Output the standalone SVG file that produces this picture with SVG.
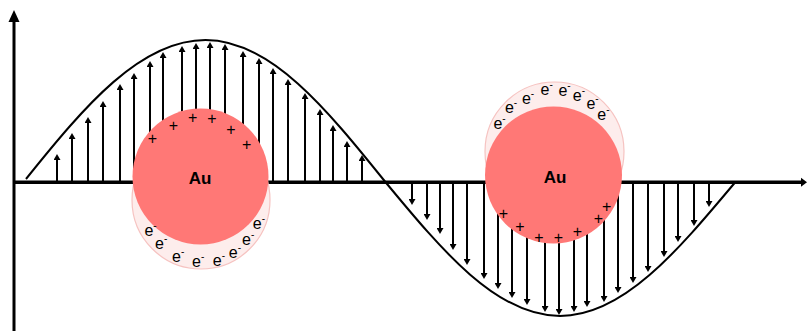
<svg xmlns="http://www.w3.org/2000/svg" width="807" height="331" viewBox="0 0 807 331">
  <style>
    .axis { stroke: #000; fill: none; }
    .wave { stroke: #000; stroke-width: 2; fill: none; }
    .field line { stroke: #000; stroke-width: 2; marker-end: url(#head); }
    .cloud { fill: #fdedec; stroke: #f6c3c1; stroke-width: 1.2; }
    .core { fill: #ff7876; }
    .label { font-family: "Liberation Sans", Arial, sans-serif; font-weight: bold; font-size: 17px; fill: #000; text-anchor: middle; }
    .plus { font-family: "Liberation Sans", Arial, sans-serif; font-size: 16px; fill: #000; text-anchor: middle; }
    .el { font-family: "Liberation Sans", Arial, sans-serif; font-size: 16px; fill: #000; text-anchor: middle; }
    .el tspan { font-size: 10px; }
  </style>
  <defs>
    <marker id="head" markerUnits="userSpaceOnUse" markerWidth="6" markerHeight="7" refX="0" refY="3.5" orient="auto">
      <path d="M0,0 L6,3.5 L0,7 z" fill="#000"/>
    </marker>
  </defs>

  <rect width="807" height="331" fill="#fff"/>

  <!-- coordinate axes -->
  <g id="axes">
    <line class="axis" x1="14" y1="331" x2="14" y2="21" stroke-width="3"/>
    <path d="M14,10 L19.5,22 L8.5,22 z" fill="#000"/>
    <line class="axis" x1="13" y1="182.3" x2="802" y2="182.3" stroke-width="3.5"/>
    <path d="M807,182.3 L801,177.8 L801,186.8 z" fill="#000"/>
  </g>

  <!-- electric field wave -->
  <path id="wave" class="wave" d="M26,179 C84.5,106 140.5,40 205.5,40 C270.5,40 326.5,108.8 385,181.5 C442.1,250.6 496.7,316 560,316 C623.3,316 677.9,250.6 735,182.5"/>

  <!-- field vectors -->
  <g id="connectors" class="field">
    <line x1="57" y1="182" x2="57" y2="160"/>
    <line x1="72" y1="182" x2="72" y2="139"/>
    <line x1="88" y1="182" x2="88" y2="123"/>
    <line x1="103" y1="182" x2="103" y2="107"/>
    <line x1="120" y1="182" x2="120" y2="90"/>
    <line x1="134" y1="182" x2="134" y2="79"/>
    <line x1="150" y1="182" x2="150" y2="67"/>
    <line x1="163" y1="182" x2="163" y2="58"/>
    <line x1="182" y1="182" x2="182" y2="52"/>
    <line x1="196" y1="182" x2="196" y2="49"/>
    <line x1="210" y1="182" x2="210" y2="48"/>
    <line x1="225" y1="182" x2="225" y2="50"/>
    <line x1="243" y1="182" x2="243" y2="57"/>
    <line x1="259" y1="182" x2="259" y2="64"/>
    <line x1="273" y1="182" x2="273" y2="74"/>
    <line x1="288" y1="182" x2="288" y2="85"/>
    <line x1="305" y1="182" x2="305" y2="99"/>
    <line x1="320" y1="182" x2="320" y2="115"/>
    <line x1="333" y1="182" x2="333" y2="131"/>
    <line x1="347" y1="182" x2="347" y2="147"/>
    <line x1="362" y1="182" x2="362" y2="161"/>

    <line x1="412" y1="183" x2="412" y2="199"/>
    <line x1="427" y1="183" x2="427" y2="214"/>
    <line x1="440" y1="183" x2="440" y2="228"/>
    <line x1="453" y1="183" x2="453" y2="244"/>
    <line x1="467" y1="183" x2="467" y2="259"/>
    <line x1="484" y1="183" x2="484" y2="273"/>
    <line x1="498" y1="183" x2="498" y2="283"/>
    <line x1="512" y1="183" x2="512" y2="292"/>
    <line x1="527" y1="183" x2="527" y2="299"/>
    <line x1="545" y1="183" x2="545" y2="306"/>
    <line x1="559" y1="183" x2="559" y2="309"/>
    <line x1="574" y1="183" x2="574" y2="306"/>
    <line x1="587" y1="183" x2="587" y2="301"/>
    <line x1="604" y1="183" x2="604" y2="296"/>
    <line x1="618" y1="183" x2="618" y2="287"/>
    <line x1="633" y1="183" x2="633" y2="277"/>
    <line x1="648" y1="183" x2="648" y2="266"/>
    <line x1="664" y1="183" x2="664" y2="251"/>
    <line x1="678" y1="183" x2="678" y2="236"/>
    <line x1="694" y1="183" x2="694" y2="220"/>
    <line x1="709" y1="183" x2="709" y2="201"/>
  </g>

  <!-- gold particle, field pointing up: electrons pushed below -->
  <g id="particle-left">
    <circle class="cloud" cx="201" cy="200" r="69"/>
    <circle class="core" cx="200.5" cy="176.5" r="68"/>
    <text class="label" x="200" y="183.5">Au</text>
    <text class="plus" x="152.3" y="143.5">+</text>
    <text class="plus" x="173.3" y="130.8">+</text>
    <text class="plus" x="192.7" y="123.1">+</text>
    <text class="plus" x="212" y="124.1">+</text>
    <text class="plus" x="231" y="135.1">+</text>
    <text class="plus" x="246.7" y="149.8">+</text>
    <text class="el" x="150.5" y="236">e<tspan dy="-7">-</tspan></text>
    <text class="el" x="161.2" y="249.3">e<tspan dy="-7">-</tspan></text>
    <text class="el" x="178.2" y="262">e<tspan dy="-7">-</tspan></text>
    <text class="el" x="198.2" y="267">e<tspan dy="-7">-</tspan></text>
    <text class="el" x="218.9" y="266">e<tspan dy="-7">-</tspan></text>
    <text class="el" x="234.9" y="258.3">e<tspan dy="-7">-</tspan></text>
    <text class="el" x="248.2" y="245">e<tspan dy="-7">-</tspan></text>
    <text class="el" x="258.9" y="229.3">e<tspan dy="-7">-</tspan></text>
  </g>

  <!-- gold particle, field pointing down: electrons pushed above -->
  <g id="particle-right">
    <circle class="cloud" cx="554.5" cy="151.5" r="69.5"/>
    <circle class="core" cx="553.5" cy="175" r="68.5"/>
    <text class="label" x="555" y="183.3">Au</text>
    <text class="plus" x="503.3" y="219.1">+</text>
    <text class="plus" x="520" y="231.8">+</text>
    <text class="plus" x="539" y="242.5">+</text>
    <text class="plus" x="558.3" y="243.1">+</text>
    <text class="plus" x="577.3" y="236.5">+</text>
    <text class="plus" x="598.3" y="224.1">+</text>
    <text class="plus" x="606.7" y="211.8">+</text>
    <text class="el" x="499.5" y="129">e<tspan dy="-7">-</tspan></text>
    <text class="el" x="511" y="112.8">e<tspan dy="-7">-</tspan></text>
    <text class="el" x="528" y="103.5">e<tspan dy="-7">-</tspan></text>
    <text class="el" x="546.7" y="95">e<tspan dy="-7">-</tspan></text>
    <text class="el" x="564.5" y="96">e<tspan dy="-7">-</tspan></text>
    <text class="el" x="578.9" y="101">e<tspan dy="-7">-</tspan></text>
    <text class="el" x="592.5" y="108.5">e<tspan dy="-7">-</tspan></text>
    <text class="el" x="603.4" y="120">e<tspan dy="-7">-</tspan></text>
  </g>
</svg>
